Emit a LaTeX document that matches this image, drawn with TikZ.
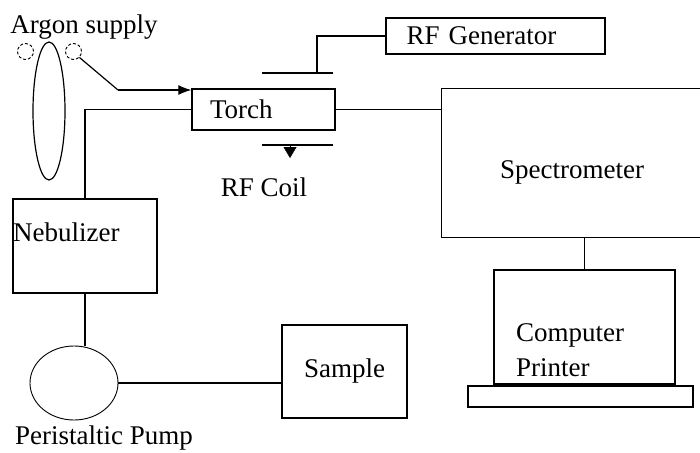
\documentclass[tikz,border=0pt]{standalone}
\usepackage{fontspec}
\setmainfont{Liberation Serif}
\usetikzlibrary{arrows.meta,positioning,shapes.geometric}

\tikzset{
  unit/.style={draw,line width=1.3pt,inner sep=0pt,font=\fontsize{27}{31}\selectfont},
  tag/.style={inner sep=0pt,font=\fontsize{27}{31}\selectfont},
  pipe/.style={line width=1.2pt},
}

\begin{document}
\begin{tikzpicture}[x=1pt,y=-1pt]
  \useasboundingbox (0,0) rectangle (700,452);

  % Argon supply
  \node[tag] (argon) at (84,27) {Argon supply};
  \node[draw,ellipse,line width=1.2pt,minimum width=32pt,minimum height=138pt,inner sep=0pt] (gasloop) at (49,111) {};
  \node[draw,circle,densely dashed,line width=0.9pt,minimum size=16pt,inner sep=0pt] (argonL) at (25.5,51.5) {};
  \node[draw,circle,densely dashed,line width=0.9pt,minimum size=16pt,inner sep=0pt] (argonR) at (73.5,51.5) {};
  \coordinate (bend) at (118,90);

  % Torch and RF coil
  \node[unit,text width=107pt,inner xsep=18pt,minimum height=41pt,align=left] (torch) at (263.5,109.5) {Torch};
  \coordinate (platetopL) at (262,73);
  \coordinate (platetopR) at (333,73);
  \coordinate (platebotL) at (262,145);
  \coordinate (platebotR) at (333,145);
  \coordinate (feed) at (317,73);
  \coordinate (coiltip) at (290,146);
  \draw[pipe] (platetopL) -- (platetopR);
  \draw[pipe] (platebotL) -- (platebotR);
  \draw[-{Triangle[width=13pt,length=11pt]}] (coiltip) -- ++(0,12);
  \node[tag] (coil) at (264,187) {RF Coil};

  % RF Generator
  \node[unit,text width=178pt,inner xsep=20.5pt,minimum height=36pt,align=left] (rfgen) at (495.5,36) {RF Generator};

  % Spectrometer, open on the right
  \node[tag,minimum width=258pt,minimum height=148pt] (spectro) at (571,163) {};
  \node[tag] (spectxt) at (572,172) {Spectrometer};
  \draw[line width=1.3pt] (spectro.north east) -- (spectro.north west) -- (spectro.south west) -- (spectro.south east);

  % Computer and printer
  \node[unit,minimum width=181pt,minimum height=114pt] (computer) at (584.5,327) {};
  \node[tag,font=\fontsize{27}{35}\selectfont,align=left,anchor=west] (comptxt) at (516,350) {Computer\\Printer};
  \node[unit,minimum width=225pt,minimum height=21pt] (base) at (580.5,396.5) {};

  % Nebulizer, pump, sample
  \node[unit,minimum width=144pt,minimum height=94pt] (nebulizer) at (85,246) {};
  \node[tag,anchor=west] (nebtxt) at (13,232) {Nebulizer};
  \node[draw,ellipse,line width=0.9pt,minimum width=88pt,minimum height=74pt,inner sep=0pt] (pump) at (74,383) {};
  \node[tag] (pumptxt) at (104,438) {Peristaltic Pump};
  \node[unit,minimum width=125pt,minimum height=93pt] (sample) at (344.5,371.5) {Sample};

  % Connections
  \draw[pipe] (argonR.south east) -- (bend);
  \draw[pipe,-{Latex[length=13pt,width=10pt]}] (bend) -- (bend -| torch.west);
  \draw[pipe] (torch.west) -| (nebulizer.north);
  \draw[pipe] (torch.east) -- (torch.east -| spectro.west);
  \draw[pipe] (feed) |- (rfgen.west);
  \draw[pipe] (spectro.south -| computer.north) -- (computer.north);
  \draw[pipe] (nebulizer.south) -- (nebulizer.south |- pump.north);
  \draw[pipe] (pump.east) -- (pump.east -| sample.west);
\end{tikzpicture}
\end{document}
